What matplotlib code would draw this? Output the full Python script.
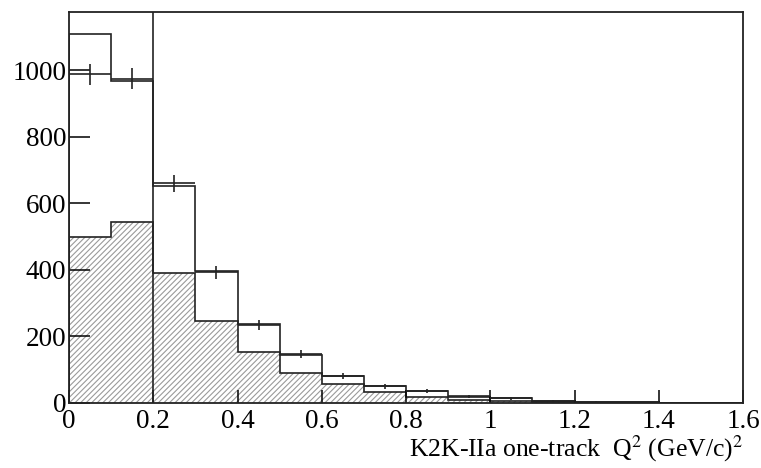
import matplotlib
matplotlib.use('Agg')
import matplotlib.pyplot as plt
import numpy as np

# Q^2 bins (GeV/c)^2
edges = np.round(np.arange(0, 1.61, 0.1), 2)

# MC total, non-QE background (hatched) and data counts per bin
mc_total = [1110, 967, 652, 397, 236, 144, 82, 52, 37, 18, 15, 7, 3, 2, 1, 1]
mc_bkg = [498, 545, 390, 246, 153, 91, 56, 32, 17, 9, 5, 2, 1, 1, 0.5, 0.5]
data = [988, 975, 660, 393, 234, 147, 80, 50, 36, 20, 14, 6, 4, 2, 1, 1]

cut = 0.2

plt.rcParams['font.family'] = ['Liberation Serif', 'DejaVu Serif']
plt.rcParams['mathtext.fontset'] = 'stix'
plt.rcParams['hatch.linewidth'] = 0.8

fig = plt.figure(figsize=(7.61, 4.68), dpi=100)
ax = fig.add_axes([0.0907, 0.1389, 0.8857, 0.8355])

# hatched background
ax.stairs(mc_bkg, edges, fill=True, facecolor='none', edgecolor='#9a9a9a',
          hatch='//////', linewidth=0)
ax.stairs(mc_bkg, edges, color='#222222', linewidth=1.2)

# MC total
ax.stairs(mc_total, edges, color='#222222', linewidth=1.2)

# data with sqrt(N) errors
centers = 0.5 * (edges[:-1] + edges[1:])
ax.errorbar(centers, data, xerr=0.05, yerr=np.sqrt(data), fmt='none',
            ecolor='#222222', elinewidth=1.2, capsize=0)

ax.axvline(cut, color='#222222', linewidth=1.2)

ax.set_xlim(0, 1.6)
ax.set_ylim(0, 1175)
ax.set_xticks(np.round(np.arange(0, 1.61, 0.2), 1))
ax.set_xticklabels(['0', '0.2', '0.4', '0.6', '0.8', '1', '1.2', '1.4', '1.6'])
ax.set_yticks([0, 200, 400, 600, 800, 1000])

ax.tick_params(axis='y', direction='in', length=15, width=1.1, pad=2,
               labelsize=19.5, left=True, right=False)
ax.tick_params(axis='x', direction='in', length=9.5, width=1.1, pad=4,
               labelsize=19.5, bottom=True, top=False)
for s in ax.spines.values():
    s.set_linewidth(1.3)
    s.set_color('#222222')

ax.set_xlabel(r'K2K-IIa one-track  Q$^{2}$ (GeV/c)$^{2}$', fontsize=18.5,
              loc='right', labelpad=0)

fig.savefig('out.png', dpi=100)
